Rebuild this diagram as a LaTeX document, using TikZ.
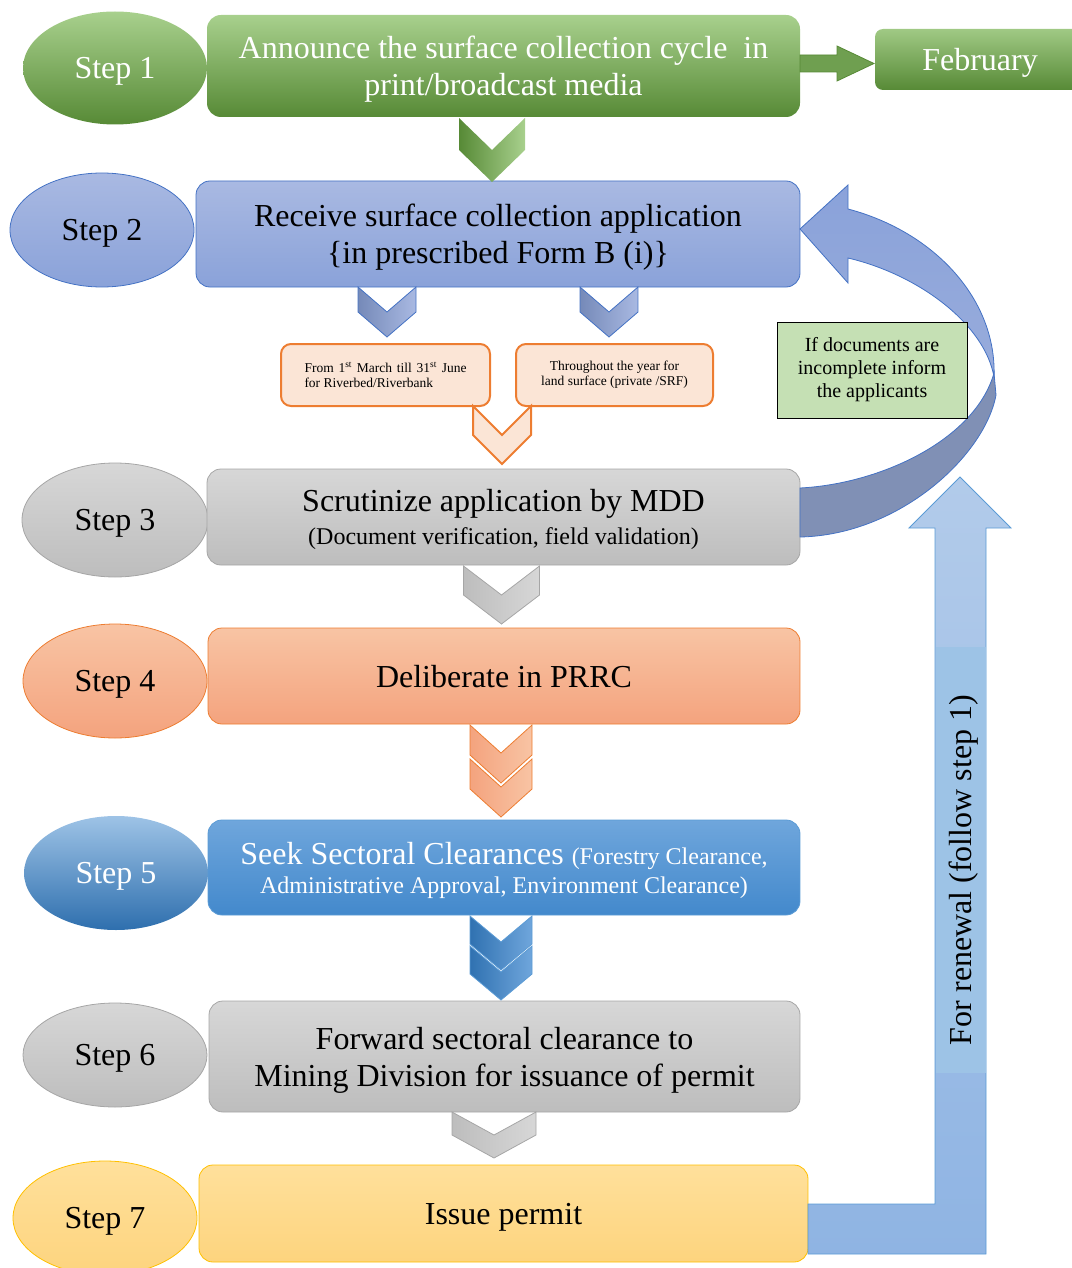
\documentclass[tikz,border=0pt]{standalone}
\usepackage{fontspec}
\setmainfont{Liberation Serif}
\usetikzlibrary{shapes.geometric,calc}
\definecolor{gA}{HTML}{A8D08D}\definecolor{gB}{HTML}{578A36}
\definecolor{bA}{HTML}{A9B9E2}\definecolor{bB}{HTML}{8AA2D9}\definecolor{bL}{HTML}{4472C4}
\definecolor{kA}{HTML}{D7D7D7}\definecolor{kB}{HTML}{BDBDBD}\definecolor{kL}{HTML}{A6A6A6}
\definecolor{oA}{HTML}{F8C4A4}\definecolor{oB}{HTML}{F4A37E}\definecolor{oL}{HTML}{ED7D31}
\definecolor{oP}{HTML}{FBE5D6}
\definecolor{sA}{HTML}{6FA6DC}\definecolor{sB}{HTML}{4389CC}\definecolor{sL}{HTML}{5B9BD5}
\definecolor{eA}{HTML}{9EC3E6}\definecolor{eB}{HTML}{2E6FAE}
\definecolor{yA}{HTML}{FFE09B}\definecolor{yB}{HTML}{FDD47E}\definecolor{yL}{HTML}{FFC000}
\definecolor{rA}{HTML}{B2CBEA}\definecolor{rB}{HTML}{8FB4E3}\definecolor{rT}{HTML}{9DC3E6}
\definecolor{cA}{HTML}{8AA2DA}\definecolor{cB}{HTML}{98ACDB}\definecolor{cD}{HTML}{8090B5}
\definecolor{nG}{HTML}{C5E0B4}
\newcommand\chevron[5]{%
  \path[#1] (#2) ++(-#3,0) -- ++(#3,#4) -- ++(#3,-#4) -- ++(0,#5) -- ++(-#3,#4) -- ++(-#3,-#4) -- cycle;}
\begin{document}
\begin{tikzpicture}[x=1pt,y=-1pt,
  every node/.style={inner sep=0pt,outer sep=0pt},
  txt/.style={font=\fontsize{32}{37}\selectfont,align=center,text depth=0pt},
  stepell/.style={ellipse,txt,line width=0.8pt},
  box/.style={rectangle,rounded corners=14pt,line width=0.8pt,txt},
  greenfill/.style={top color=gA,bottom color=gB},
  bluefill/.style={top color=bA,bottom color=bB,draw=bL},
  grayfill/.style={top color=kA,bottom color=kB,draw=kL},
  orfill/.style={top color=oA,bottom color=oB,draw=oL},
  yelfill/.style={top color=yA,bottom color=yB,draw=yL},
  smallbox/.style={rectangle,rounded corners=10pt,draw=oL,fill=oP,line width=2pt,
    font=\fontsize{13.5}{15}\selectfont},
  chevline/.style={line width=0.8pt}
]
\useasboundingbox (0,0) rectangle (1071,1268);

% ---------- renewal arrow (behind) ----------
\node[box,yelfill,minimum width=609,minimum height=97] (b7) at (503.5,1213.5) {Issue permit};
\coordinate (r1) at (808,1204);
\path[top color=rA,bottom color=rB,draw=sL,line width=0.8pt]
  (r1) -- (935,1204) -- (935,528) -- (909,528) -- (960,477) -- (1011,528) -- (986,528)
  -- (986,1254) -- (808,1254) -- cycle;
\fill[rT] (935.5,647) rectangle (985.5,1073);
\node[rotate=90,font=\fontsize{32}{37}\selectfont] (ren) at (964,870) {For renewal (follow step 1)};

% ---------- step nodes ----------
\node[stepell,greenfill,text=white,minimum width=184,minimum height=113] (s1) at (115,68) {Step 1};
\node[box,greenfill,text=white,minimum width=593,minimum height=102] (b1) at (503.5,66)
  {Announce the surface collection cycle \ in\\print/broadcast media};
\node[rectangle,rounded corners=8pt,top color=gA!90!gB,bottom color=gB,text=white,txt,
  minimum width=210,minimum height=61] (feb) at (980,59.5) {February};

\node[stepell,bluefill,minimum width=184,minimum height=114] (s2) at (102,230) {Step 2};
\node[box,bluefill,minimum width=604,minimum height=106] (b2) at (498,234)
  {Receive surface collection application\\\{in prescribed Form B (i)\}};

\node[smallbox,minimum width=209,minimum height=62,align=left] (pa) at (385.5,375)
  {\makebox[162pt][s]{From 1\textsuperscript{st} March till 31\textsuperscript{st} June}\\for Riverbed/Riverbank};
\node[smallbox,minimum width=197,minimum height=62,align=center] (pb) at (614.5,375)
  {Throughout the year for\\land surface (private /SRF)};

\node[stepell,grayfill,minimum width=186,minimum height=114] (s3) at (115,520) {Step 3};
\node[box,grayfill,minimum width=593,minimum height=96] (b3) at (503.5,517)
  {Scrutinize application by MDD\\[-4pt]{\fontsize{24}{28}\selectfont (Document verification, field validation)}};

\node[stepell,orfill,minimum width=184,minimum height=114] (s4) at (115,681) {Step 4};
\node[box,orfill,minimum width=592,minimum height=96] (b4) at (504,676) {Deliberate in PRRC};

\node[stepell,top color=eA,bottom color=eB,text=white,minimum width=184,minimum height=114] (s5) at (116,873) {Step 5};
\node[box,top color=sA,bottom color=sB,draw=sL,text=white,minimum width=592,minimum height=95] (b5) at (504,867.5)
  {Seek Sectoral Clearances {\fontsize{24}{28}\selectfont(Forestry Clearance,}\\[-8pt]
   {\fontsize{24}{28}\selectfont Administrative Approval, Environment Clearance)}};

\node[stepell,grayfill,minimum width=184,minimum height=104] (s6) at (115,1055) {Step 6};
\node[box,grayfill,minimum width=591,minimum height=111] (b6) at (504.5,1056.5)
  {Forward sectoral clearance to\\Mining Division for issuance of permit};

\node[stepell,yelfill,minimum width=184,minimum height=114] (s7) at (105,1218) {Step 7};

% ---------- green block arrow to February ----------
\path[fill=gB!70!gA,draw=gB,line width=0.8pt]
  ($(b1.east)+(0,-11)$) -- ++(37,0) -- ++(0,-9) -- ($(feb.west)+(-1,4)$) -- ++(-37,17.5)
  -- ++(0,-9) -- ++(-37,0) -- cycle;

% ---------- chevrons ----------
\chevron{left color=gB,right color=gA}{492,118}{33}{32}{32}
\chevron{left color=bB!85!black,right color=bA,draw=bL,chevline}{387,287}{29}{25}{25}
\chevron{left color=bB!85!black,right color=bA,draw=bL,chevline}{609,287}{29}{25}{25}
\chevron{fill=oP,draw=oL,line width=2pt}{502,406}{29}{29}{29}
\chevron{left color=kB,right color=kA,draw=kL,chevline}{501.5,566}{38}{29}{29}
\chevron{left color=oB,right color=oA,draw=oL,chevline}{501,759}{31}{28}{30}
\chevron{left color=oB,right color=oA,draw=oL,chevline}{501,725}{31}{28}{30}
\chevron{left color=eB!90!sB,right color=sA,draw=sL,chevline}{501,946}{31}{26}{28}
\chevron{left color=eB!90!sB,right color=sA,draw=sL,chevline}{501,916}{31}{26}{28}
\chevron{left color=kB,right color=kA,draw=kL,chevline}{494,1112}{42}{23}{23}

% ---------- curved return arrow ----------
\path[fill=cD,draw=bL,line width=0.8pt]
  ($(b3.east)+(0,-29)$) .. controls (880,484) and (975,440) .. (994,373) -- (996,395)
  .. controls (985,455) and (900,535) .. ($(b3.east)+(0,20)$) -- cycle;
\path[top color=cA,bottom color=cB,draw=bL,line width=0.8pt]
  (848,209) .. controls (935,232) and (997,300) .. (994,377)
  .. controls (985,325) and (920,275) .. (848,258) -- (848,283) -- ($(b2.east)+(0,-5)$) -- (848,185) -- cycle;

% ---------- note ----------
\node[rectangle,fill=nG,draw=black,line width=0.8pt,minimum width=190,minimum height=96,
  font=\fontsize{20}{23}\selectfont,align=center] (note) at (872,370)
  {If documents are\\incomplete inform\\the applicants};
\end{tikzpicture}
\end{document}
